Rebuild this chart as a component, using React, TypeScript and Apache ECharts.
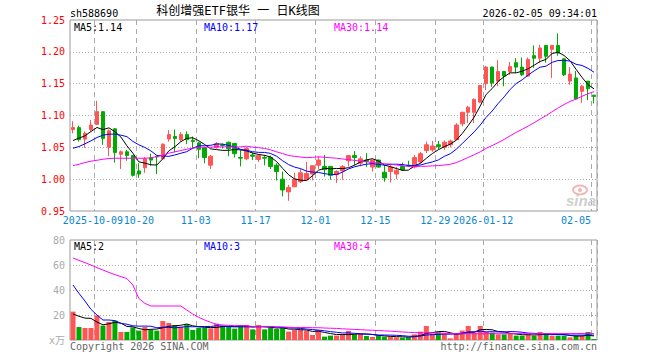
import React, { useEffect, useRef } from "react";
import * as echarts from "echarts";

const dates = [
  "2025-09-25","2025-09-26","2025-09-29","2025-09-30","2025-10-09","2025-10-10","2025-10-13","2025-10-14","2025-10-15","2025-10-16",
  "2025-10-17","2025-10-20","2025-10-21","2025-10-22","2025-10-23","2025-10-24","2025-10-27","2025-10-28","2025-10-29","2025-10-30",
  "2025-10-31","2025-11-03","2025-11-04","2025-11-05","2025-11-06","2025-11-07","2025-11-10","2025-11-11","2025-11-12","2025-11-13",
  "2025-11-14","2025-11-17","2025-11-18","2025-11-19","2025-11-20","2025-11-21","2025-11-24","2025-11-25","2025-11-26","2025-11-27",
  "2025-11-28","2025-12-01","2025-12-02","2025-12-03","2025-12-04","2025-12-05","2025-12-08","2025-12-09","2025-12-10","2025-12-11",
  "2025-12-12","2025-12-15","2025-12-16","2025-12-17","2025-12-18","2025-12-19","2025-12-22","2025-12-23","2025-12-24","2025-12-25",
  "2025-12-26","2025-12-29","2025-12-30","2025-12-31","2026-01-05","2026-01-06","2026-01-07","2026-01-08","2026-01-09","2026-01-12",
  "2026-01-13","2026-01-14","2026-01-15","2026-01-16","2026-01-19","2026-01-20","2026-01-21","2026-01-22","2026-01-23","2026-01-26",
  "2026-01-27","2026-01-28","2026-01-29","2026-01-30","2026-02-02","2026-02-03","2026-02-04","2026-02-05",
];

const opens = [
  1.078,1.081,1.063,1.078,1.086,1.106,1.050,1.079,1.039,1.043,
  1.037,1.013,1.018,1.034,1.036,1.032,1.063,1.067,1.062,1.070,
  1.061,1.057,1.049,1.022,1.050,1.054,1.058,1.056,1.034,1.032,
  1.038,1.031,1.034,1.034,1.022,1.000,0.980,0.988,0.996,0.999,
  1.008,1.022,1.020,1.020,1.007,1.013,1.029,1.037,1.025,1.030,
  1.019,1.030,1.011,1.012,1.008,1.020,1.022,1.019,1.027,1.045,
  1.046,1.054,1.050,1.054,1.062,1.087,1.105,1.105,1.121,1.150,
  1.176,1.154,1.169,1.169,1.183,1.176,1.162,1.194,1.190,1.210,
  1.204,1.210,1.189,1.154,1.159,1.138,1.154,1.132,
];
const closes = [
  1.081,1.062,1.072,1.085,1.106,1.064,1.076,1.042,1.043,1.037,
  1.006,1.008,1.032,1.030,1.035,1.055,1.070,1.064,1.070,1.062,
  1.059,1.047,1.034,1.036,1.056,1.053,1.048,1.040,1.033,1.048,
  1.036,1.037,1.033,1.020,1.012,0.983,0.987,1.000,1.010,1.009,
  1.021,1.030,1.015,1.006,1.012,1.020,1.037,1.034,1.032,1.028,
  1.030,1.019,1.002,1.019,1.014,1.015,1.021,1.034,1.040,1.054,
  1.052,1.051,1.058,1.060,1.085,1.105,1.113,1.125,1.147,1.176,
  1.151,1.169,1.162,1.177,1.176,1.164,1.188,1.190,1.206,1.193,
  1.210,1.198,1.164,1.165,1.126,1.146,1.142,1.130,
];
const lows = [
  1.072,1.059,1.049,1.075,1.085,1.054,1.036,1.026,1.016,1.029,
  1.004,1.002,1.010,1.021,1.008,1.031,1.059,1.042,1.059,1.055,
  1.049,1.033,1.025,1.016,1.048,1.048,1.036,1.034,1.020,1.030,
  1.030,1.027,1.022,1.016,0.998,0.973,0.966,0.988,0.994,0.999,
  0.998,1.016,1.004,0.999,0.994,0.999,1.020,1.022,1.020,1.019,
  1.012,1.018,0.996,0.995,1.000,1.013,1.019,1.017,1.025,1.041,
  1.043,1.047,1.046,1.050,1.061,1.083,1.088,1.088,1.120,1.140,
  1.145,1.146,1.146,1.164,1.167,1.162,1.161,1.175,1.183,1.183,
  1.159,1.194,1.162,1.148,1.125,1.120,1.124,1.119,
];
const highs = [
  1.091,1.084,1.075,1.093,1.123,1.106,1.078,1.080,1.045,1.046,
  1.038,1.025,1.035,1.040,1.037,1.056,1.077,1.078,1.074,1.075,
  1.067,1.059,1.051,1.038,1.058,1.056,1.059,1.057,1.046,1.051,
  1.042,1.039,1.038,1.037,1.025,1.012,0.991,1.010,1.016,1.027,
  1.022,1.036,1.038,1.020,1.014,1.022,1.038,1.044,1.036,1.041,
  1.031,1.031,1.022,1.022,1.019,1.026,1.029,1.038,1.043,1.059,
  1.060,1.060,1.061,1.062,1.088,1.106,1.115,1.127,1.148,1.178,
  1.177,1.187,1.170,1.184,1.190,1.191,1.191,1.210,1.211,1.210,
  1.210,1.229,1.190,1.176,1.170,1.148,1.154,1.132,
];

// volume, in units of 10,000 (万)
const volumes = [
  22.7,10.4,9.6,9.6,19.7,11.5,14.4,15.5,6.4,6.4,
  10.1,7.5,10.4,8.3,7.5,15.2,13.6,12.0,10.7,12.5,
  8.0,9.9,9.9,9.3,13.1,11.5,10.7,9.1,11.7,12.0,
  8.5,12.0,8.5,9.9,8.8,9.9,6.7,8.0,8.0,7.5,
  4.0,8.0,2.7,3.5,3.5,4.5,7.2,4.5,4.8,3.2,
  2.4,3.5,2.7,2.7,2.1,1.9,2.1,4.5,6.7,11.2,
  5.0,6.2,5.3,1.3,5.3,7.5,11.2,5.9,11.2,6.5,
  5.9,4.5,4.5,5.3,3.5,3.5,4.5,3.5,6.4,5.3,
  3.5,3.5,3.5,2.1,3.5,3.5,6.4,0.8,
];

const ma5Head = [1.0607, 1.0644, 1.0681, 1.0749];
const ma10Head = [1.0486, 1.0513, 1.0555, 1.0602, 1.0654, 1.0691, 1.0707, 1.0707, 1.0691];
const ma30Head = [
  1.0213, 1.0234, 1.0261, 1.0282, 1.0297, 1.0313, 1.0324, 1.0329, 1.0329, 1.0329,
  1.0329, 1.0329, 1.0329, 1.0334, 1.0355, 1.0376, 1.0408, 1.0429, 1.045, 1.0471,
  1.0486, 1.0502, 1.0502, 1.0502, 1.0507, 1.0507, 1.0507, 1.0507, 1.0507,
];
const vma5Head = [20.8, 19.0, 17.5, 17.3];
const vma10Head = [44, 37.3, 31.2, 24.5, 20, 16, 16, 15.5, 13.3];
const vma30Head = [
  65.6, 63.7, 61.9, 60, 57.9, 56, 54.1, 52.3, 50.7, 49.1,
  44, 33.3, 29.3, 27.2, 27.2, 27.2, 27.2, 27.2, 27.2, 24,
  20.8, 18.1, 16, 14.1, 12.5, 12, 11.7, 11.5, 11.5,
];

const tickDates = ["2025-10-09","2025-10-20","2025-11-03","2025-11-17","2025-12-01","2025-12-15","2025-12-29","2026-01-12","2026-02-05"];
const tickLabels = ["2025-10-09","10-20","11-03","11-17","12-01","12-15","12-29","2026-01-12","02-05"];

const priceLegend = ["MA5:1.14", "MA10:1.17", "MA30:1.14"];
const volLegend = ["MA5:2", "MA10:3", "MA30:4"];

const titleText = "科创增强ETF银华 一 日K线图";
const codeText = "sh588690";
const timeText = "2026-02-05 09:34:01";

function movingAvg(values: number[], n: number, head: number[]) {
  return values.map((_, i) => {
    if (i < n - 1) return head[i];
    let s = 0;
    for (let k = i - n + 1; k <= i; k++) s += values[k];
    return +(s / n).toFixed(4);
  });
}

const MONO = "'DejaVu Sans Mono', 'Noto Sans CJK SC', monospace";
const UP = "#ff5555";
const DOWN = "#00aa00";
const C5 = "#000000";
const C10 = "#0000ff";
const C30 = "#ff00ff";
const XLAB = "#0b86d1";

function txt(text: string, x: number, y: number, fill: string, align = "left", size = 10, extra: any = {}) {
  return {
    type: "text",
    x,
    y,
    silent: true,
    z: 50,
    style: {
      text,
      fill,
      fontSize: size,
      fontFamily: MONO,
      align,
      verticalAlign: "middle",
      textAlign: align,
      textVerticalAlign: "middle",
      ...extra,
    },
  };
}

export default function App() {
  const ref = useRef<HTMLDivElement>(null);

  useEffect(() => {
    if (!ref.current) return;
    const chart = echarts.init(ref.current, null, { renderer: "svg" });

    const candleData = dates.map((_, i) => [opens[i], closes[i], lows[i], highs[i]]);
    const ma5 = movingAvg(closes, 5, ma5Head);
    const ma10 = movingAvg(closes, 10, ma10Head);
    const ma30 = movingAvg(closes, 30, ma30Head);
    const vma5 = movingAvg(volumes, 5, vma5Head);
    const vma10 = movingAvg(volumes, 10, vma10Head);
    const vma30 = movingAvg(volumes, 30, vma30Head);
    const volData = volumes.map((v, i) => ({
      value: v,
      itemStyle: { color: closes[i] >= opens[i] ? UP : DOWN },
    }));

    const tickIdx = tickDates.map((d) => dates.indexOf(d));
    const isTick = (i: number) => tickIdx.indexOf(i) >= 0;
    const vSplit = {
      show: true,
      interval: (i: number) => isTick(i),
      lineStyle: { color: "#aaaaaa", width: 1, type: [5, 4] },
    };
    const hSplit = {
      show: true,
      showMinLine: false,
      showMaxLine: false,
      lineStyle: { color: "#aaaaaa", width: 1, type: [1, 2] },
    };

    const lineSeries = (name: string, data: number[], color: string, axis: number) => ({
      name,
      type: "line",
      xAxisIndex: axis,
      yAxisIndex: axis,
      data,
      symbol: "none",
      smooth: false,
      z: 5,
      lineStyle: { color, width: 1 },
      itemStyle: { color },
      silent: true,
    });

    const labStyle = (rightPad: number) => ({
      padding: [0, rightPad, 0, 0],
      color: XLAB,
      fontFamily: MONO,
      fontSize: 10,
    });

    const option: any = {
      animation: false,
      backgroundColor: "#ffffff",
      textStyle: { fontFamily: MONO },
      grid: [
        { left: 70, top: 20, width: 527, height: 191, show: true, borderColor: "#999999", borderWidth: 1 },
        { left: 70, top: 240, width: 527, height: 100, show: true, borderColor: "#999999", borderWidth: 1 },
      ],
      xAxis: [
        {
          type: "category",
          gridIndex: 0,
          data: dates,
          boundaryGap: true,
          axisLine: { show: false },
          axisTick: { show: false },
          axisLabel: {
            show: true,
            hideOverlap: false,
            // index 0 carries an empty label so that no real label is treated as the min label
            interval: (i: number) => i === 0 || isTick(i),
            color: XLAB,
            fontFamily: MONO,
            fontSize: 10,
            margin: 4,
            formatter: (value: string) => {
              const k = tickDates.indexOf(value);
              if (k < 0) return "";
              if (k === 0) return `{first|${tickLabels[k]}}`;
              if (k === 1) return `{second|${tickLabels[k]}}`;
              if (k === tickDates.length - 1) return `{last|${tickLabels[k]}}`;
              return `{mid|${tickLabels[k]}}`;
            },
            rich: {
              first: labStyle(8),
              second: labStyle(0),
              mid: labStyle(6),
              last: labStyle(36),
            },
          },
          splitLine: vSplit,
        },
        {
          type: "category",
          gridIndex: 1,
          data: dates,
          boundaryGap: true,
          axisLine: { show: false },
          axisTick: { show: false },
          axisLabel: { show: false },
          splitLine: vSplit,
        },
      ],
      yAxis: [
        {
          type: "value",
          gridIndex: 0,
          min: 0.95,
          max: 1.25,
          interval: 0.05,
          axisLine: { show: false },
          axisTick: { show: false },
          axisLabel: {
            color: "#ff0000",
            fontFamily: MONO,
            fontSize: 10,
            margin: 5,
            hideOverlap: false,
            formatter: (v: number) => v.toFixed(2),
          },
          splitLine: hSplit,
        },
        {
          type: "value",
          gridIndex: 1,
          min: 0,
          max: 80,
          interval: 20,
          axisLine: { show: false },
          axisTick: { show: false },
          axisLabel: {
            color: "#aaaaaa",
            fontFamily: MONO,
            fontSize: 10,
            margin: 5,
            hideOverlap: false,
            formatter: (v: number) => (v === 0 ? "x万" : String(v)),
          },
          splitLine: hSplit,
        },
      ],
      series: [
        {
          name: "K",
          type: "candlestick",
          xAxisIndex: 0,
          yAxisIndex: 0,
          data: candleData,
          barWidth: 4,
          z: 3,
          silent: true,
          itemStyle: {
            color: UP,
            color0: DOWN,
            borderColor: UP,
            borderColor0: DOWN,
            borderWidth: 1,
          },
        },
        lineSeries("MA5", ma5, C5, 0),
        lineSeries("MA10", ma10, C10, 0),
        lineSeries("MA30", ma30, C30, 0),
        {
          name: "VOL",
          type: "bar",
          xAxisIndex: 1,
          yAxisIndex: 1,
          data: volData,
          barWidth: 5,
          z: 3,
          silent: true,
        },
        lineSeries("VMA5", vma5, C5, 1),
        lineSeries("VMA10", vma10, C10, 1),
        lineSeries("VMA30", vma30, C30, 1),
      ],
      graphic: {
        elements: [
          txt(codeText, 70, 13, "#000000"),
          txt(titleText, 238, 11, "#000000", "center", 12),
          txt(timeText, 597, 13, "#000000", "right"),
          txt(priceLegend[0], 74, 27, C5),
          txt(priceLegend[1], 204, 27, C10),
          txt(priceLegend[2], 334, 27, C30),
          txt(volLegend[0], 74, 246, C5),
          txt(volLegend[1], 204, 246, C10),
          txt(volLegend[2], 334, 246, C30),
          txt("Copyright 2026 SINA.COM", 70, 346, "#666666"),
          txt("http://finance.sina.com.cn", 597, 346, "#666666", "right"),
          {
            type: "ellipse",
            silent: true,
            z: 1,
            shape: { cx: 580, cy: 190, rx: 7, ry: 4.5 },
            style: { fill: "none", stroke: "#f3b5b5", lineWidth: 2 },
          },
          {
            type: "circle",
            silent: true,
            z: 1,
            shape: { cx: 580, cy: 190, r: 2 },
            style: { fill: "#f3b5b5" },
          },
          {
            type: "text",
            x: 581,
            y: 200,
            silent: true,
            z: 1,
            style: {
              text: "sina",
              fill: "#cfcfcf",
              fontSize: 15,
              fontFamily: "'Liberation Sans', Arial, sans-serif",
              fontWeight: "bold",
              fontStyle: "italic",
              align: "center",
              verticalAlign: "middle",
              textAlign: "center",
              textVerticalAlign: "middle",
            },
          },
        ],
      },
    };

    chart.setOption(option);
    return () => chart.dispose();
  }, []);

  return (
    <div
      ref={ref}
      style={{ position: "fixed", left: 0, top: 0, width: 660, height: 360, background: "#fff" }}
    />
  );
}
